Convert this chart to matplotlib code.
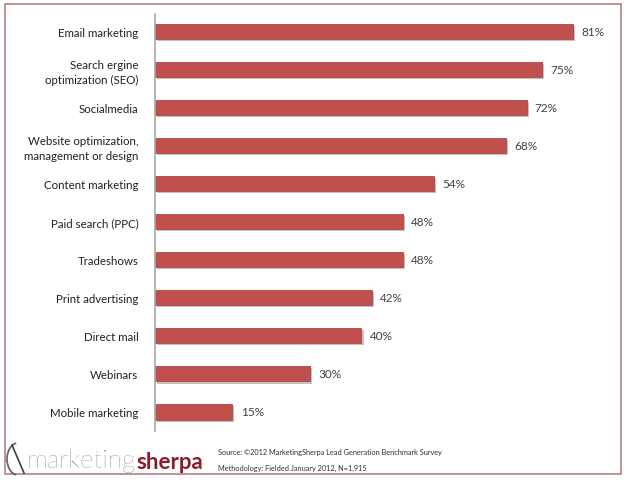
import matplotlib.pyplot as plt
import matplotlib.patheffects as pe
from matplotlib.patches import Rectangle, Arc

categories = ['Email marketing', 'Search ergine\noptimization (SEO)', 'Socialmedia',
              'Website optimization,\nmanagement or design', 'Content marketing',
              'Paid search (PPC)', 'Tradeshows', 'Print advertising', 'Direct mail',
              'Webinars', 'Mobile marketing']
values = [81, 75, 72, 68, 54, 48, 48, 42, 40, 30, 15]
value_labels = ['81%', '75%', '72%', '68%', '54%', '48%', '48%', '42%', '40%', '30%', '15%']

W, H = 628, 485
fig = plt.figure(figsize=(W / 100, H / 100), dpi=100)
fig.patch.set_facecolor('white')

# axes placed in pixel terms
x0, x1 = 155, 610
y_top, y_bot = 15, 432
ax = fig.add_axes([x0 / W, (H - y_bot) / H, (x1 - x0) / W, (y_bot - y_top) / H])
px_per_pct = (573 - 155) / 81
ax.set_xlim(0, (x1 - x0) / px_per_pct)
ax.set_ylim(10.5, -0.45)

ypos = list(range(len(categories)))
bars = ax.barh(ypos, values, height=0.40, color='#C0504D', edgecolor='#B24440', linewidth=0.6)
for b in bars:
    b.set_path_effects([pe.SimplePatchShadow(offset=(1.5, -1.5), shadow_rgbFace='#9a9a9a', alpha=0.6),
                        pe.Normal()])

for y, v, lab in zip(ypos, values, value_labels):
    ax.text(v + 1.6, y, lab, va='center', ha='left', fontsize=8.5, color='#404040', family='Lato')

ax.set_yticks(ypos)
ax.set_yticklabels(categories, fontsize=8.3, color='#202020', family='Lato', linespacing=1.4)
ax.tick_params(axis='y', length=0, pad=12)
ax.set_xticks([])
for s in ['top', 'right', 'bottom']:
    ax.spines[s].set_visible(False)
ax.spines['left'].set_color('#a8a8a8')
ax.spines['left'].set_linewidth(1.2)

# outer border
fig.patches.append(Rectangle((5 / W, 10 / H), 616 / W, 470 / H, transform=fig.transFigure,
                             fill=False, edgecolor='#B58080', linewidth=1.2))

# logo
fig.patches.append(Arc((18 / W, (H - 460) / H), 22 / W, 32 / H, theta1=95, theta2=265,
                       transform=fig.transFigure, color='#606060', linewidth=1.2))
fig.lines.append(plt.Line2D([12 / W, 24 / W], [(H - 446) / H, (H - 474) / H],
                            transform=fig.transFigure, color='#404040', linewidth=1.2))
mk = fig.text(27 / W, (H - 468) / H, 'marketing', fontsize=19, color='#555555', family='Lato',
              fontweight='light', va='baseline', ha='left')
# "sherpa" sits right after "marketing"
ax.annotate('sherpa', xy=(1.0, 0.0), xycoords=mk, fontsize=16, color='#8C1C2C',
            family='Lato', fontweight='bold', va='bottom', ha='left', annotation_clip=False)

fig.text(218 / W, (H - 453) / H, 'Source: \u00a92012 MarketingSherpa Lead Generation Benchmark Survey',
         fontsize=5.3, color='#303030', family='Lato', va='center', ha='left')
fig.text(218 / W, (H - 468) / H, 'Methodology: Fielded January 2012, N=1,915',
         fontsize=5.3, color='#303030', family='Lato', va='center', ha='left')

fig.savefig('out.png', dpi=100, facecolor='white')
